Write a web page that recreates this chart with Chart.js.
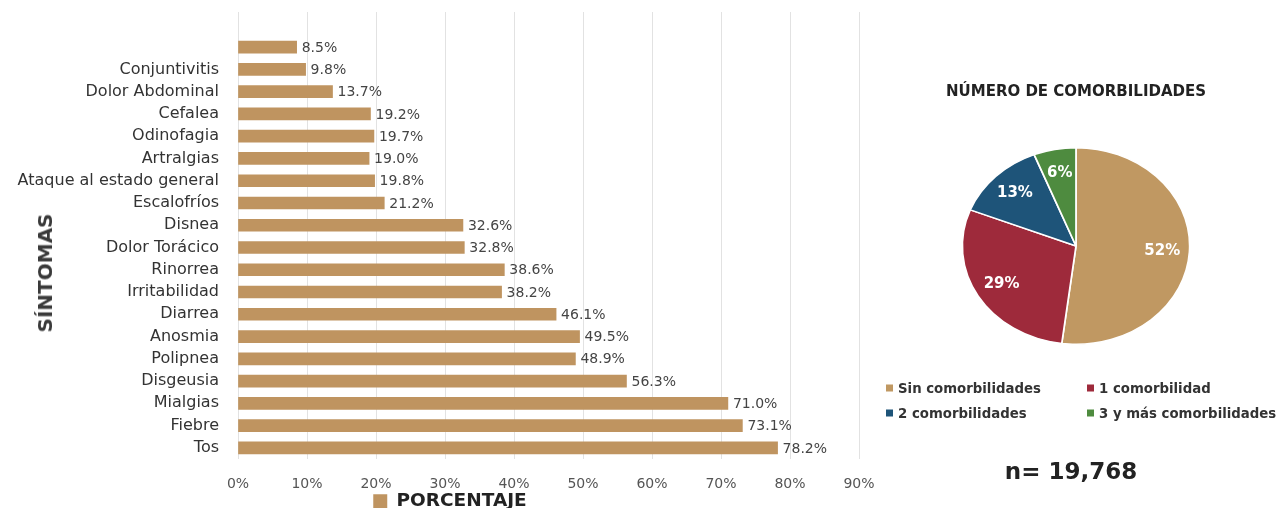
<!DOCTYPE html>
<html><head><meta charset="utf-8">
<script src="https://cdn.jsdelivr.net/npm/chart.js@4.4.1/dist/chart.umd.min.js"></script>
<style>
html,body{margin:0;padding:0;background:#fff;width:1283px;height:508px;overflow:hidden;font-family:"DejaVu Sans",sans-serif;}
#barWrap{position:absolute;left:0;top:0;width:900px;height:508px;}
#pieWrap{position:absolute;left:880px;top:0;width:403px;height:508px;}
#ytitle{position:absolute;left:45px;top:273px;transform:translate(-50%,-50%) rotate(-90deg);font:bold 20px "DejaVu Sans";color:#3a3a3a;white-space:nowrap;}
.leg{position:absolute;font:bold 13.3px "DejaVu Sans";color:#333;white-space:nowrap;transform:translateY(-50%);}
.leg i{display:inline-block;width:7px;height:7px;margin-right:5px;vertical-align:middle;position:relative;top:-1px}
#n{position:absolute;left:1071px;top:471px;transform:translate(-50%,-50%);font:bold 23px "DejaVu Sans";color:#222;white-space:nowrap}
</style></head>
<body>
<div id="barWrap"><canvas id="bar"></canvas></div>
<div id="pieWrap"><canvas id="pie"></canvas></div>
<div id="ytitle">SÍNTOMAS</div>
<div id="legend"></div>
<div id="n">n= 19,768</div>
<script>
// ---- data ----
const symptoms = ["", "Conjuntivitis", "Dolor Abdominal", "Cefalea", "Odinofagia", "Artralgias",
  "Ataque al estado general", "Escalofríos", "Disnea", "Dolor Torácico", "Rinorrea", "Irritabilidad",
  "Diarrea", "Anosmia", "Polipnea", "Disgeusia", "Mialgias", "Fiebre", "Tos"];
const symptomPct = [8.5, 9.8, 13.7, 19.2, 19.7, 19.0, 19.8, 21.2, 32.6, 32.8, 38.6, 38.2,
  46.1, 49.5, 48.9, 56.3, 71.0, 73.1, 78.2];
const xTickMax = 90;
const xTickStep = 10;
const seriesName = "PORCENTAJE";

const comorbLabels = ["Sin comorbilidades", "1 comorbilidad", "2 comorbilidades", "3 y más comorbilidades"];
const comorbPct = [52, 29, 13, 6];
const pieTitle = "NÚMERO DE COMORBILIDADES";

// ---- styles ----
const FONT = '"DejaVu Sans", sans-serif';
const barColor = '#BF9460';
const comorbColors = ['#C09862', '#9E2A3B', '#1E5479', '#4E8B3F'];
const SX = 1.157; // pie horizontal stretch (ellipse)

const gridExtend = {
  id: 'gridExtend',
  beforeDatasetsDraw(chart) {
    const {ctx, chartArea, scales: {x}} = chart;
    ctx.save();
    ctx.strokeStyle = '#e2e2e2'; ctx.lineWidth = 1;
    x.ticks.forEach(t => {
      const px = Math.round(x.getPixelForValue(t.value)) + 0.5;
      ctx.beginPath(); ctx.moveTo(px, chartArea.top - 24); ctx.lineTo(px, chartArea.top); ctx.stroke();
    });
    ctx.restore();
  }
};
const valueLabels = {
  id: 'valueLabels',
  afterDatasetsDraw(chart) {
    const {ctx} = chart;
    const meta = chart.getDatasetMeta(0);
    ctx.save();
    ctx.font = '14px ' + FONT; ctx.fillStyle = '#444';
    ctx.textBaseline = 'middle'; ctx.textAlign = 'left';
    meta.data.forEach((bar, i) => {
      ctx.fillText(symptomPct[i].toFixed(1) + '%', bar.x + 5, bar.y + 1);
    });
    ctx.restore();
  }
};

new Chart(document.getElementById('bar'), {
  type: 'bar',
  data: {labels: symptoms, datasets: [{label: seriesName, data: symptomPct, backgroundColor: barColor, barThickness: 12}]},
  options: {
    indexAxis: 'y', responsive: true, maintainAspectRatio: false, animation: false,
    layout: {padding: {top: 36, right: 0, left: 0, bottom: 0}},
    scales: {
      x: {
        min: 0, max: xTickMax,
        ticks: {stepSize: xTickStep, callback: v => v + '%', color: '#555', font: {size: 14, family: FONT}, padding: 17},
        grid: {color: '#e2e2e2', drawTicks: false},
        border: {display: false},
        afterFit(s) { s.height = 33; }
      },
      y: {
        ticks: {color: '#333', font: {size: 16, family: FONT}, padding: 19},
        grid: {display: false, drawTicks: false},
        border: {display: false},
        afterFit(s) { s.width = 238; }
      },
      yRight: {
        type: 'category', axis: 'y', position: 'right',
        ticks: {display: false},
        grid: {display: false, drawTicks: false},
        border: {display: false},
        afterFit(s) { s.width = 41; }
      }
    },
    plugins: {
      legend: {position: 'bottom', maxHeight: 16, labels: {boxWidth: 14, boxHeight: 14, padding: 0, color: '#222', font: {size: 18.5, weight: 'bold', family: FONT}}},
      tooltip: {enabled: false}
    }
  },
  plugins: [gridExtend, valueLabels]
});

const pieStretch = {
  id: 'pieStretch',
  beforeDatasetsDraw(chart) {
    const a = chart.getDatasetMeta(0).data[0];
    const ctx = chart.ctx;
    ctx.save();
    ctx.translate(a.x, a.y); ctx.scale(SX, 1); ctx.translate(-a.x, -a.y);
  },
  afterDatasetsDraw(chart) {
    const ctx = chart.ctx;
    ctx.restore();
    const meta = chart.getDatasetMeta(0);
    ctx.save();
    ctx.font = 'bold 15px ' + FONT; ctx.fillStyle = '#fff';
    ctx.textAlign = 'center'; ctx.textBaseline = 'middle';
    meta.data.forEach((arc, i) => {
      const p = arc.getProps(['x', 'y', 'startAngle', 'endAngle', 'outerRadius']);
      const mid = (p.startAngle + p.endAngle) / 2;
      const r = p.outerRadius * 0.76;
      ctx.fillText(comorbPct[i] + '%', p.x + Math.cos(mid) * r * SX, p.y + Math.sin(mid) * r);
    });
    ctx.restore();
  }
};

new Chart(document.getElementById('pie'), {
  type: 'pie',
  data: {labels: comorbLabels, datasets: [{data: comorbPct, backgroundColor: comorbColors, borderColor: '#fff', borderWidth: 1.5}]},
  options: {
    responsive: true, maintainAspectRatio: false, animation: false,
    layout: {padding: {top: 83, left: 0, right: 11, bottom: 163}},
    plugins: {
      legend: {display: false},
      tooltip: {enabled: false},
      title: {display: true, text: pieTitle, color: '#222', font: {size: 15, weight: 'bold', family: FONT}, padding: {top: 0, bottom: 46}}
    }
  },
  plugins: [pieStretch]
});

// HTML legend for the pie (two aligned columns)
const legPos = [[886, 388], [1087, 388], [886, 413], [1087, 413]];
const legEl = document.getElementById('legend');
comorbLabels.forEach((t, i) => {
  const d = document.createElement('div');
  d.className = 'leg';
  d.style.left = legPos[i][0] + 'px'; d.style.top = legPos[i][1] + 'px';
  d.innerHTML = '<i style="background:' + comorbColors[i] + '"></i>' + t;
  legEl.appendChild(d);
});
</script>
</body></html>
